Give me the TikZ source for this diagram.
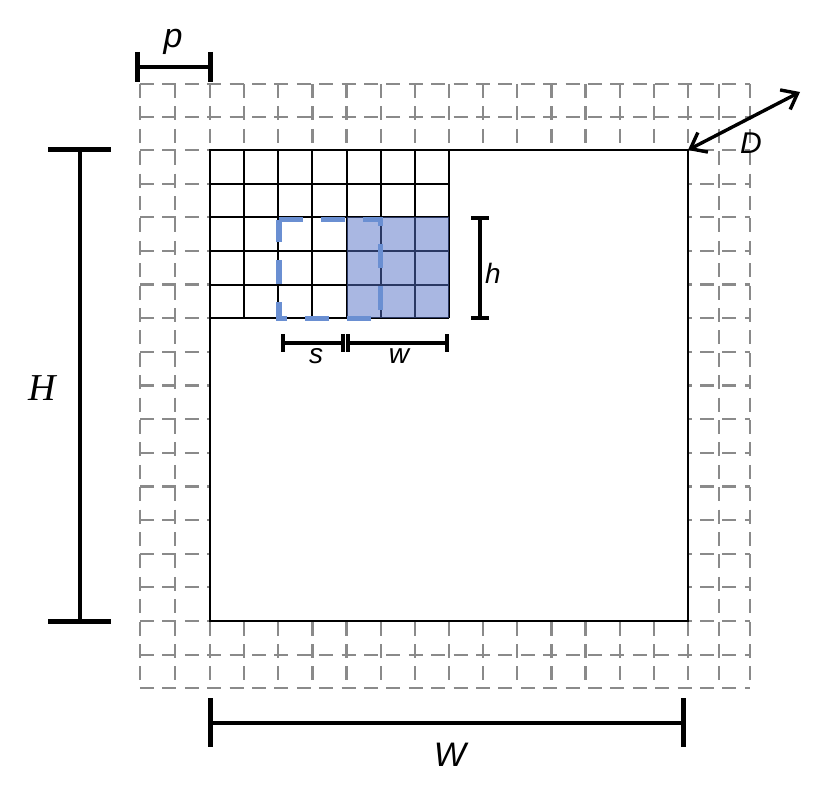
\documentclass[tikz,border=0pt]{standalone}
\usepackage{fontspec}
\setmainfont{Liberation Sans}
\newfontfamily\hserif{Liberation Serif}
\usetikzlibrary{arrows.meta}
\definecolor{gridgray}{HTML}{8A8A8A}
\definecolor{boxblue}{rgb}{0.33,0.44,0.78}
\definecolor{dashblue}{HTML}{6A8FD2}
\tikzset{
  gdash/.style={draw=gridgray, line width=1.1pt, dash pattern=on 7pt off 4.2pt, dash phase=0pt},
  cellline/.style={draw=black, line width=1pt},
  dimbar/.style={draw=black, line width=2pt},
  dimtick/.style={draw=black, line width=2.5pt},
  smallbar/.style={draw=black, line width=1.6pt},
  smalltick/.style={draw=black, line width=2pt},
  lab/.style={font=\fontsize{17}{20}\selectfont\itshape, inner sep=0pt},
  smalllab/.style={font=\fontsize{14}{16}\selectfont\itshape, inner sep=0pt},
  darrow/.style={draw=black, line width=1.7pt, {Straight Barb[length=7pt,width=11pt]}-{Straight Barb[length=7pt,width=11pt]}},
  bluedash/.style={draw=dashblue, line width=2.6pt, dash pattern=on 12pt off 9pt, dash phase=0pt}
}
\begin{document}
\begin{tikzpicture}[x=0.5pt,y=-0.5pt]
\useasboundingbox[fill=white] (0,0) rectangle (822,802);

% dashed outer grid
\foreach \y in {84,117,150,183.64,217.29,250.93,284.57,318.21,351.86,385.5,419.14,452.79,486.43,520.07,553.71,587.36,621,655,688}
  \draw[gdash] (140,\y) -- (750,\y);
\foreach \x in {140,175,210,244.14,278.29,312.43,346.57,380.71,414.86,449,483.14,517.29,551.43,585.57,619.71,653.86,688,719,750}
  \draw[gdash] (\x,84) -- (\x,688);

% inner image area
\coordinate (inNW) at (210,150);
\coordinate (inNE) at (688,150);
\coordinate (inSE) at (688,621);
\coordinate (inSW) at (210,621);
\fill[white] (inNW) rectangle (inSE);
\draw[cellline] (inNW) -- (inNE) -- (inSE) -- (inSW) -- cycle;

% solid cell grid in the top-left corner
\foreach \x in {244.14,278.29,312.43,346.57,380.71,414.86,449}
  \draw[cellline] (\x,150) -- (\x,318.21);
\foreach \y in {183.64,217.29,250.93,284.57,318.21}
  \draw[cellline] (210,\y) -- (449,\y);

% filter window (filled)
\coordinate (fNW) at (346.57,217.29);
\coordinate (fSE) at (449,318.21);
\fill[boxblue, fill opacity=0.5] (fNW) rectangle (fSE);

% previous window (dashed)
\coordinate (dNW) at (279,219.5);
\coordinate (dNE) at (380.71,219.5);
\coordinate (dSE) at (380.71,318.21);
\coordinate (dSW) at (279,318.21);
\draw[bluedash] (dNW) -- (dNE) -- (dSE) -- (dSW) -- cycle;

% p
\coordinate (pL) at (137,67);
\coordinate (pR) at (210,67);
\draw[dimbar] (pL) -- (pR);
\draw[dimtick] (137,52) -- (137,82);
\draw[dimtick] (210,52) -- (210,82);
\node[lab] (plab) at (173,42) {p};

% H
\coordinate (HT) at (80,150);
\coordinate (HB) at (80,621);
\draw[dimbar] (HT) -- (HB);
\draw[dimtick] (48,150) -- (111,150);
\draw[dimtick] (48,621) -- (111,621);
\node[font=\hserif\fontsize{19}{22}\selectfont\itshape, inner sep=0pt] (Hlab) at (42,388) {H};

% W
\coordinate (WL) at (210,723);
\coordinate (WR) at (683,723);
\draw[dimbar] (WL) -- (WR);
\draw[dimtick] (210,698) -- (210,747);
\draw[dimtick] (683,698) -- (683,747);
\node[lab] (Wlab) at (450,755) {W};

% h
\coordinate (hT) at (480,218);
\coordinate (hB) at (480,318);
\draw[dimbar] (hT) -- (hB);
\draw[smalltick] (471,218) -- (489,218);
\draw[smalltick] (471,318) -- (489,318);
\node[smalllab] (hlab) at (493,273) {h};

% s and w
\coordinate (sL) at (283,343);
\coordinate (sR) at (343,343);
\coordinate (wL) at (348,343);
\coordinate (wR) at (447,343);
\draw[smallbar] (sL) -- (sR);
\draw[smallbar] (wL) -- (wR);
\foreach \x in {283,343,348,447}
  \draw[smalltick] (\x,334) -- (\x,352);
\node[smalllab] (slab) at (316,356) {s};
\node[smalllab] (wlab) at (399,356) {w};

% D
\coordinate (Dend) at (800,92);
\draw[darrow] (inNE) -- (Dend);
\node[font=\fontsize{15}{18}\selectfont\itshape, inner sep=0pt] (Dlab) at (751,143) {D};
\end{tikzpicture}
\end{document}
